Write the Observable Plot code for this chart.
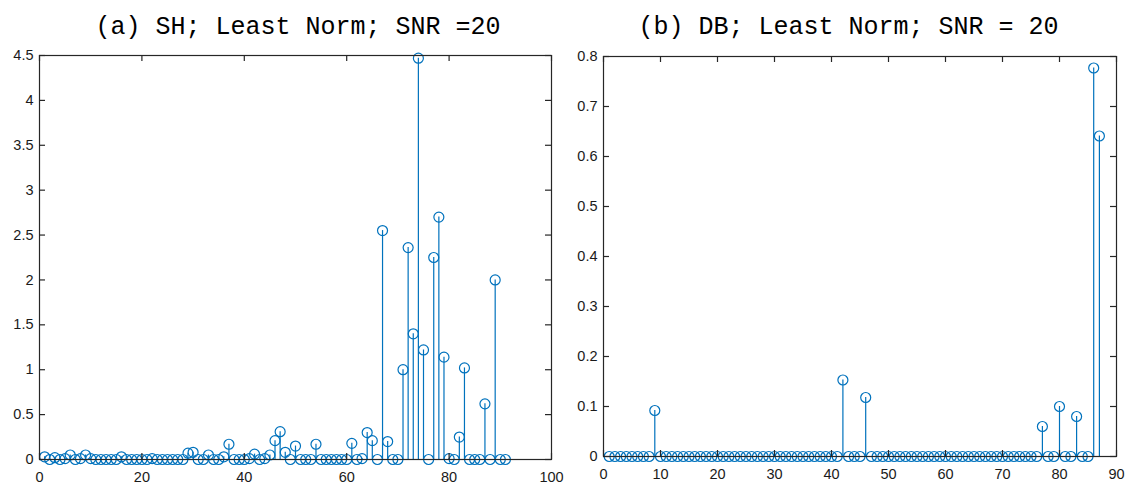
<!DOCTYPE html>
<html>
<head>
<meta charset="utf-8">
<script src="https://cdn.jsdelivr.net/npm/d3@7"></script>
<script src="https://cdn.jsdelivr.net/npm/@observablehq/plot@0.6"></script>
<style>
  html, body { margin: 0; padding: 0; background: #fff; }
  #wrap { position: relative; width: 1137px; height: 484px; display: flex; flex-direction: row; }
  .fig { position: relative; }
  .title { font-family: "Liberation Mono", "DejaVu Sans Mono", monospace; font-size: 25px; color: #000;
           height: 48px; box-sizing: border-box; padding-top: 8px; line-height: 40px; text-align: center; white-space: pre; }
  svg { display: block; overflow: visible; }
</style>
</head>
<body>
<div id="wrap">
  <div class="fig" id="figA" style="width:570px"><div class="title" style="padding-left:26px">(a) SH; Least Norm; SNR =20</div></div>
  <div class="fig" id="figB" style="width:567px"><div class="title" style="padding-right:10px">(b) DB; Least Norm; SNR = 20</div></div>
</div>
<script>
// Panel (a): SH, indices 1..91
const indexA = d3.range(1, 92);
const valuesA = [
  0.03, 0, 0.02, 0, 0.01, 0.05, 0, 0.01, 0.05, 0.01,
  0, 0, 0, 0, 0, 0.03, 0, 0, 0, 0,
  0, 0.01, 0, 0, 0, 0, 0, 0, 0.07, 0.08,
  0, 0, 0.05, 0, 0, 0.03, 0.17, 0, 0, 0,
  0.01, 0.06, 0, 0.01, 0.05, 0.21, 0.31, 0.08, 0, 0.15,
  0, 0, 0, 0.17, 0, 0, 0, 0, 0, 0,
  0.18, 0, 0.01, 0.30, 0.21, 0, 2.55, 0.20, 0, 0,
  1.00, 2.36, 1.40, 4.47, 1.22, 0, 2.25, 2.70, 1.14, 0.01,
  0, 0.25, 1.02, 0, 0, 0, 0.62, 0, 2.00, 0, 0
];
const xTicksA = [0, 20, 40, 60, 80, 100];
const yTicksA = [0, 0.5, 1, 1.5, 2, 2.5, 3, 3.5, 4, 4.5];

// Panel (b): DB, indices 1..87
const indexB = d3.range(1, 88);
const valuesB = [
  0, 0, 0, 0, 0, 0, 0, 0, 0.092, 0,
  0, 0, 0, 0, 0, 0, 0, 0, 0, 0,
  0, 0, 0, 0, 0, 0, 0, 0, 0, 0,
  0, 0, 0, 0, 0, 0, 0, 0, 0, 0,
  0, 0.153, 0, 0, 0, 0.118, 0, 0, 0, 0,
  0, 0, 0, 0, 0, 0, 0, 0, 0, 0,
  0, 0, 0, 0, 0, 0, 0, 0, 0, 0,
  0, 0, 0, 0, 0, 0, 0.060, 0, 0, 0.100,
  0, 0, 0.080, 0, 0, 0.777, 0.641
];
const xTicksB = [0, 10, 20, 30, 40, 50, 60, 70, 80, 90];
const yTicksB = [0, 0.1, 0.2, 0.3, 0.4, 0.5, 0.6, 0.7, 0.8];

const stemColor = "#0072BD";
const axisColor = "#262626";
const fmt = d => String(+d.toFixed(2));
const TICK = 6;

function stemPlot({index, values, xDomain, yDomain, xTicks, yTicks, width, height, margins}) {
  const data = index.map((i, k) => ({i, v: values[k]}));
  const [ml, mr, mt, mb] = margins;
  const innerW = width - ml - mr, innerH = height - mt - mb;
  const tickStyle = {stroke: axisColor, strokeWidth: 1.2};
  return Plot.plot({
    width, height,
    marginLeft: ml, marginRight: mr, marginTop: mt, marginBottom: mb,
    style: {fontFamily: "'Liberation Sans', Arial, sans-serif", fontSize: "14.5px", color: "#1a1a1a", background: "transparent"},
    x: {domain: xDomain},
    y: {domain: yDomain},
    marks: [
      Plot.ruleX(data, {x: "i", y1: 0, y2: "v", stroke: stemColor, strokeWidth: 1.2}),
      Plot.dot(data, {x: "i", y: "v", r: 5, stroke: stemColor, fill: "none", strokeWidth: 1.2}),
      // inward ticks (MATLAB style) on all four sides
      Plot.tickX(xTicks, {x: d => d, insetTop: innerH - TICK, ...tickStyle}),
      Plot.tickX(xTicks, {x: d => d, insetBottom: innerH - TICK, ...tickStyle}),
      Plot.tickY(yTicks, {y: d => d, insetRight: innerW - TICK, ...tickStyle}),
      Plot.tickY(yTicks, {y: d => d, insetLeft: innerW - TICK, ...tickStyle}),
      Plot.axisX({anchor: "bottom", ticks: xTicks, tickSize: 0, tickPadding: 12, tickFormat: fmt, label: null}),
      Plot.axisY({anchor: "left", ticks: yTicks, tickSize: 0, tickPadding: 6, tickFormat: fmt, label: null}),
      Plot.frame({stroke: axisColor, strokeWidth: 1.2})
    ]
  });
}

document.getElementById("figA").appendChild(stemPlot({
  index: indexA, values: valuesA, xDomain: [0, 100], yDomain: [0, 4.5],
  xTicks: xTicksA, yTicks: yTicksA, width: 570, height: 436, margins: [39, 19, 7, 25]
}));
document.getElementById("figB").appendChild(stemPlot({
  index: indexB, values: valuesB, xDomain: [0, 90], yDomain: [0, 0.8],
  xTicks: xTicksB, yTicks: yTicksB, width: 567, height: 436, margins: [33, 21, 8, 28]
}));
</script>
</body>
</html>
